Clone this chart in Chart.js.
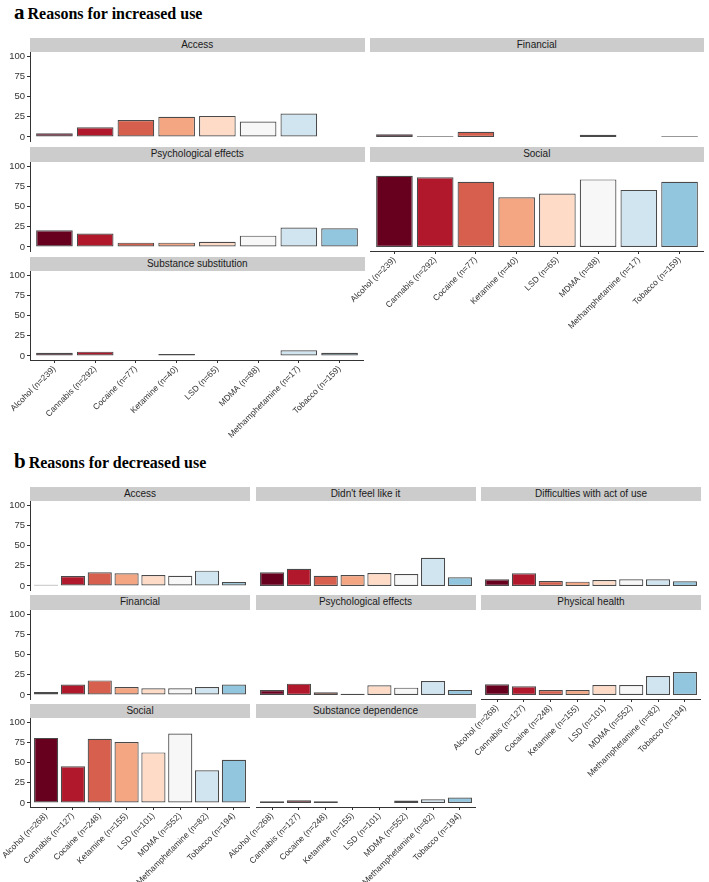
<!DOCTYPE html>
<html>
<head>
<meta charset="utf-8">
<script src="https://cdn.jsdelivr.net/npm/chart.js@4/dist/chart.umd.min.js"></script>
<style>
  body { margin: 0; background: #fff; width: 709px; height: 882px; position: relative; overflow: hidden; font-family: "Liberation Sans", Arial, sans-serif; }
  .title { position: absolute; left: 14px; font-family: "Liberation Serif", "Times New Roman", serif; font-weight: bold; font-size: 16px; white-space: nowrap; color: #000; }
  .title span { font-size: 21px; margin-right: 3px; }
  .strip { position: absolute; background: #cccccc; color: #1a1a1a; font-size: 10px; text-align: center; line-height: 14.5px; height: 14.5px; }
  canvas { position: absolute; }
</style>
</head>
<body>
<div class="title" style="top:0px"><span>a</span>Reasons for increased use</div>
<div class="title" style="top:449px"><span>b</span>Reasons for decreased use</div>
<script>
// drug labels
const drugsA = ["Alcohol (n=239)", "Cannabis (n=292)", "Cocaine (n=77)", "Ketamine (n=40)", "LSD (n=65)", "MDMA (n=88)", "Methamphetamine (n=17)", "Tobacco (n=159)"];
const drugsB = ["Alcohol (n=268)", "Cannabis (n=127)", "Cocaine (n=248)", "Ketamine (n=155)", "LSD (n=101)", "MDMA (n=552)", "Methamphetamine (n=82)", "Tobacco (n=194)"];
const yTicks = [0, 25, 50, 75, 100];

// a: reasons for increased use (%)
const incAccess = [4.5, 12, 21, 25, 26, 19, 29, 0];
const incFinancial = [3.3, 0.8, 6.5, 0, 0, 2.8, 0, 0.8];
const incPsych = [20.5, 16.5, 5.3, 5.3, 6.5, 14, 24, 23];
const incSocial = [88, 86, 80.5, 61.5, 66, 83.5, 70.5, 80.5];
const incSubstitution = [4, 5.3, 0, 2.5, 0, 0, 7, 4];

// b: reasons for decreased use (%)
const decAccess = [1.5, 12.3, 16.8, 15.6, 13.5, 12.7, 18.9, 4.9];
const decFeel = [16.8, 21.3, 12.7, 13.5, 16, 14.8, 34.8, 10.7];
const decDifficulties = [8.2, 15.6, 6.1, 5.3, 7.4, 8.2, 8.2, 5.7];
const decFinancial = [3.7, 12.8, 18, 9.9, 8.2, 8.2, 9.9, 12.8];
const decPsych = [6.2, 14, 3.3, 1.6, 12, 9, 17.3, 6.2];
const decPhysical = [13.2, 10.7, 6.2, 6.2, 12.3, 12.3, 23.5, 28.4];
const decSocial = [80.4, 45.4, 79.2, 75.4, 62.5, 85.8, 40.4, 53.3];
const decDependence = [2, 3.3, 2, 0, 0, 3, 4.6, 6.7];

const colors = ['#67001f', '#b2182b', '#d6604d', '#f4a582', '#fddbc7', '#f7f7f7', '#d1e5f0', '#92c5de'];

Chart.defaults.font.family = '"Liberation Sans", Arial, sans-serif';

function panel(name, values, labels, x, y, w, h, showY, showX) {
  const strip = document.createElement('div');
  strip.className = 'strip';
  strip.textContent = name;
  strip.style.left = x + 'px';
  strip.style.top = (y - 14.5) + 'px';
  strip.style.width = w + 'px';
  document.body.appendChild(strip);

  const padL = showY ? 30 : (showX ? 60 : 0);
  const padT = 6;
  const padB = showX ? 92 : 4;
  const cv = document.createElement('canvas');
  cv.width = w + padL;
  cv.height = h + padT + padB;
  cv.style.left = (x - padL) + 'px';
  cv.style.top = (y - padT) + 'px';
  document.body.appendChild(cv);

  new Chart(cv, {
    type: 'bar',
    data: {
      datasets: [{
        data: values.map((v, i) => ({ x: i + 1, y: v })),
        backgroundColor: colors,
        borderColor: '#4a4a4a',
        borderWidth: 1.2,
        borderSkipped: false,
        barPercentage: 0.9,
        categoryPercentage: 1
      }]
    },
    options: {
      responsive: false,
      animation: false,
      layout: { padding: { left: showY ? 0 : padL, top: padT, right: 0, bottom: showX ? 0 : padB } },
      plugins: { legend: { display: false }, tooltip: { enabled: false } },
      scales: {
        x: {
          type: 'linear', min: 0.4, max: 8.6, offset: false, display: showX,
          border: { display: true, color: '#333', width: 1 },
          grid: { display: true, offset: false, drawOnChartArea: false, drawTicks: true, tickLength: 3, color: '#333' },
          ticks: { autoSkip: false, minRotation: 45, maxRotation: 45, padding: 1, color: '#333', font: { size: 8.5 },
            callback: v => labels[v - 1] },
          afterBuildTicks: s => { s.ticks = labels.map((_, i) => ({ value: i + 1 })); },
          afterFit: s => {
            if (showX) s.height = padB;
            s.paddingLeft = 0; s.paddingRight = 0;
          }
        },
        y: {
          min: -5, max: 105, display: showY,
          border: { display: true, color: '#333', width: 1 },
          grid: { display: true, drawOnChartArea: false, drawTicks: true, tickLength: 3, color: '#333' },
          ticks: { padding: 2, color: '#333', font: { size: 9.5 } },
          afterBuildTicks: s => { s.ticks = yTicks.map(v => ({ value: v })); },
          afterFit: s => {
            if (showY) s.width = 30;
            s.paddingTop = 0; s.paddingBottom = 0;
          }
        }
      }
    }
  });
}

// panel a layout: 2 columns
const aCols = [30, 369.5], aW = 334.5, aRows = [52, 161.5, 271], aH = 89.5;
panel('Access', incAccess, drugsA, aCols[0], aRows[0], aW, aH, true, false);
panel('Financial', incFinancial, drugsA, aCols[1], aRows[0], aW, aH, false, false);
panel('Psychological effects', incPsych, drugsA, aCols[0], aRows[1], aW, aH, true, false);
panel('Social', incSocial, drugsA, aCols[1], aRows[1], aW, aH, false, true);
panel('Substance substitution', incSubstitution, drugsA, aCols[0], aRows[2], aW, aH, true, true);

// panel b layout: 3 columns
const bCols = [30, 255.5, 481], bW = 220, bRows = [501, 609.5, 718], bH = 89;
panel('Access', decAccess, drugsB, bCols[0], bRows[0], bW, bH, true, false);
panel("Didn't feel like it", decFeel, drugsB, bCols[1], bRows[0], bW, bH, false, false);
panel('Difficulties with act of use', decDifficulties, drugsB, bCols[2], bRows[0], bW, bH, false, false);
panel('Financial', decFinancial, drugsB, bCols[0], bRows[1], bW, bH, true, false);
panel('Psychological effects', decPsych, drugsB, bCols[1], bRows[1], bW, bH, false, false);
panel('Physical health', decPhysical, drugsB, bCols[2], bRows[1], bW, bH, false, true);
panel('Social', decSocial, drugsB, bCols[0], bRows[2], bW, bH, true, true);
panel('Substance dependence', decDependence, drugsB, bCols[1], bRows[2], bW, bH, false, true);
</script>
</body>
</html>
